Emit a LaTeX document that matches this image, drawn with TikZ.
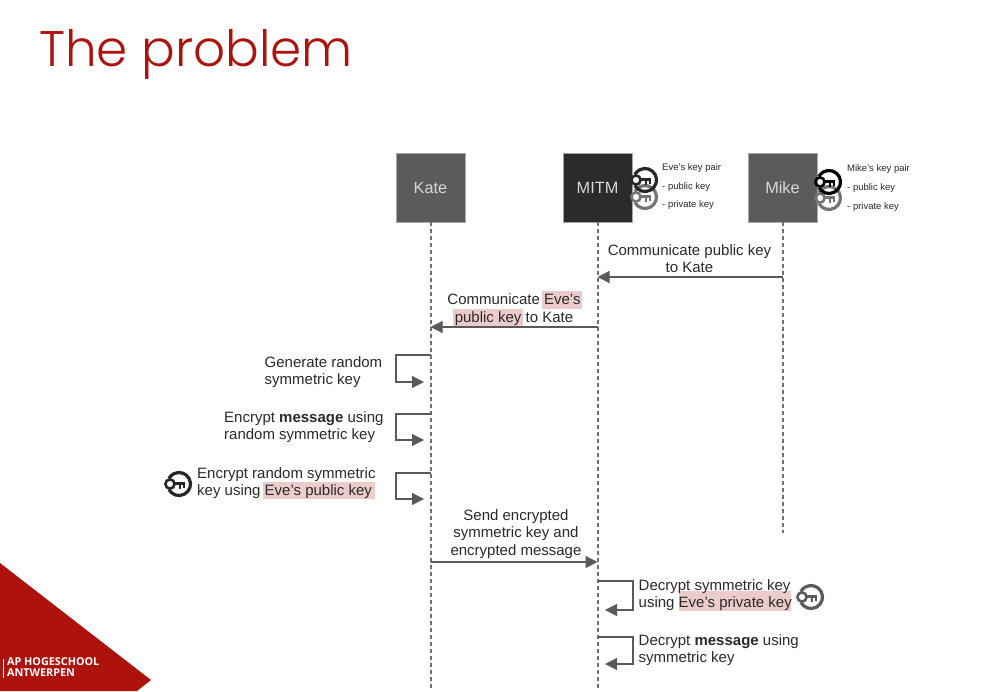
\documentclass[tikz,border=0pt]{standalone}
\usepackage{fontspec}
\setmainfont{Liberation Sans}
\newfontfamily\titlefont{Poppins Light}
\newfontfamily\logofont{Open Sans}
\usetikzlibrary{arrows.meta}
\definecolor{apred}{HTML}{AE120C}
\definecolor{linegray}{HTML}{5A5A5A}
\definecolor{lifegray}{HTML}{707070}
\definecolor{boxgray}{HTML}{5B5B5B}
\definecolor{boxdark}{HTML}{2B2B2B}
\definecolor{hl}{HTML}{EBCBCB}
\definecolor{txt}{HTML}{2A2A2A}
\tikzset{
  actor/.style={draw=gray!70,line width=.6pt,minimum size=69pt,inner sep=0pt,text=white!85!black,font=\fontsize{16.3}{18}\selectfont},
  life/.style={draw=lifegray,line width=2pt,dash pattern=on 4pt off 3pt},
  msg/.style={draw=linegray,line width=1.2pt,-{Triangle[length=12pt,width=12pt]}},
  label/.style={text=txt,align=center,inner sep=0pt,font=\fontsize{15}{17.6}\selectfont},
  llabel/.style={label,align=left,anchor=west},
  tiny/.style={text=txt,inner sep=0pt,anchor=west,font=\fontsize{9.5}{10}\selectfont},
  hlbox/.style={fill=hl,draw=none},
  keyicon/.pic={
    \draw[line width=3.2pt,pic actions] (152:11.5) arc[start angle=152,end angle=-152,radius=11.5];
    \draw[line width=2.6pt,pic actions] (-9,0) circle[radius=4.6];
    \draw[line width=2.6pt,pic actions] (-4.4,-.5) -- (6,-.5) (1,-.5) -- (1,4.5) (5,-.5) -- (5,3.5);
  }
}
\begin{document}
\begin{tikzpicture}[x=1pt,y=-1pt]
\useasboundingbox (0,0) rectangle (988,691);
\fill[white] (0,0) rectangle (988,691);
% title
\node[anchor=base west,inner sep=0pt,text=apred,font=\titlefont\fontsize{50}{60}\selectfont] (title) at (39,66) {The problem};
% logo
\fill[apred] (0,563) -- (151,680) -- (137,691) -- (0,691) -- cycle;
\draw[white,line width=.6pt] (3.5,659) -- (3.5,678);
\node[anchor=north west,inner sep=0pt,align=left,text=white,font=\logofont\bfseries\fontsize{10.8}{11.5}\selectfont] (logo) at (7,657) {AP HOGESCHOOL\\ANTWERPEN};
% actors
\node[actor,fill=boxgray] (kate) at (430.5,187.5) {\raisebox{-1.5pt}{Kate}};
\node[actor,fill=boxdark] (mitm) at (597.5,187.5) {\raisebox{-1.5pt}{MITM}};
\node[actor,fill=boxgray] (mike) at (782.5,187.5) {\raisebox{-1.5pt}{Mike}};
\coordinate (kateend) at (430.5,688);
\coordinate (mitmend) at (597.5,688);
\coordinate (mikeend) at (782.5,533);
\draw[life] (kate.south) -- (kateend);
\draw[life] (mitm.south) -- (mitmend);
\draw[life] (mike.south) -- (mikeend);
% key pairs
\pic[draw=boxgray!85] at (645,197) {keyicon};
\pic[draw=black!85] at (645,180) {keyicon};
\pic[draw=boxgray!85] at (829,198) {keyicon};
\pic[draw=black] at (829,182) {keyicon};
\node[tiny] (evepair) at (662,168) {Eve's key pair};
\node[tiny] (evepub) at (662,187) {- public key};
\node[tiny] (evepriv) at (662,205.5) {- private key};
\node[tiny] (mikepair) at (847,169) {Mike's key pair};
\node[tiny] (mikepub) at (847,188) {- public key};
\node[tiny] (mikepriv) at (847,207) {- private key};
% highlights
\fill[hlbox] (541.5,291) rectangle (582,309);
\fill[hlbox] (453,309) rectangle (523,327);
\fill[hlbox] (263,482) rectangle (375,499);
\fill[hlbox] (679,591) rectangle (791,611);
% message coordinates
\coordinate (a1) at (782.5,277); \coordinate (a2) at (597.5,277);
\coordinate (b1) at (597.5,327); \coordinate (b2) at (430.5,327);
\coordinate (c1) at (430.5,562); \coordinate (c2) at (597.5,562);
\draw[msg] (a1) -- (a2);
\draw[msg] (b1) -- (b2);
\draw[msg] (c1) -- (c2);
% self loops
\coordinate (l1) at (430.5,355); \coordinate (l1e) at (424,382);
\coordinate (l2) at (430.5,414); \coordinate (l2e) at (424,440);
\coordinate (l3) at (430.5,473); \coordinate (l3e) at (424,499);
\coordinate (l4) at (597.5,581); \coordinate (l4e) at (605,610);
\coordinate (l5) at (597.5,637); \coordinate (l5e) at (605,664);
\draw[msg] (l1) -- (396,355) -- (396,382) -- (l1e);
\draw[msg] (l2) -- (396,414) -- (396,440) -- (l2e);
\draw[msg] (l3) -- (396,473) -- (396,499) -- (l3e);
\draw[msg] (l4) -- (633,581) -- (633,610) -- (l4e);
\draw[msg] (l5) -- (633,637) -- (633,664) -- (l5e);
% labels
\node[label] (t1) at (689.5,258.5) {Communicate public key\\to Kate};
\node[label] (t2) at (514,309.5) {Communicate Eve's\\public key to Kate};
\node[llabel] (t3) at (264.5,372) {Generate random\\symmetric key};
\node[llabel] (t4) at (224,427) {Encrypt \textbf{message} using\\random symmetric key};
\node[llabel] (t5) at (197,483) {Encrypt random symmetric\\key using Eve's public key};
\node[label] (t6) at (516,534) {Send encrypted\\symmetric key and\\encrypted message};
\node[llabel] (t7) at (638.5,595) {Decrypt symmetric key\\using Eve's private key};
\node[llabel] (t8) at (638.5,650) {Decrypt \textbf{message} using\\symmetric key};
% single keys
\pic[draw=black!85] at (179,484) {keyicon};
\pic[draw=boxgray] at (811,597) {keyicon};
\end{tikzpicture}
\end{document}
